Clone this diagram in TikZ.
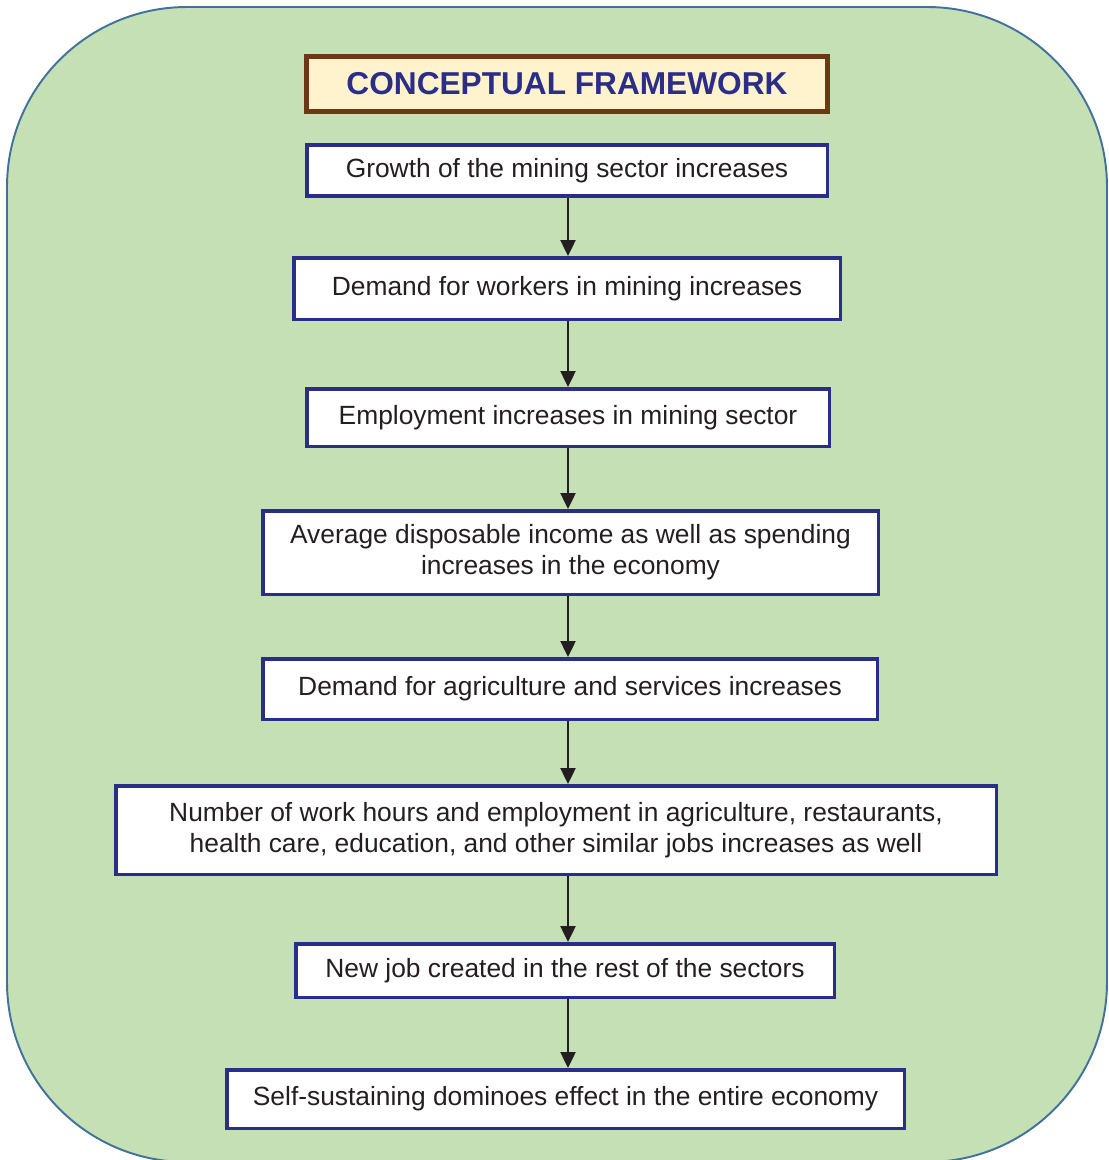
\documentclass[tikz,border=0pt]{standalone}
\usepackage{fontspec}
\setmainfont{Liberation Sans}
\usetikzlibrary{arrows.meta}
\definecolor{panelgreen}{HTML}{C5E0B4}
\definecolor{panelline}{HTML}{41719C}
\definecolor{boxblue}{HTML}{2B2E88}
\definecolor{titlebrown}{HTML}{6B3714}
\definecolor{titlefill}{HTML}{FFF3CD}
\definecolor{inkgray}{HTML}{231F20}
\begin{document}
\begin{tikzpicture}[
  stepbox/.style={draw=boxblue, line width=2pt, fill=white, text=inkgray,
    align=center, inner sep=0pt,
    font=\fontsize{15}{17.6}\selectfont},
  titlebox/.style={draw=titlebrown, line width=3pt, fill=titlefill,
    text=boxblue, inner sep=0pt, font=\fontsize{18}{21}\selectfont\bfseries},
  flow/.style={draw=inkgray, line width=1.4pt,
    -{Triangle[length=0.32cm,width=0.3cm]}}
]
\useasboundingbox (0,0) rectangle (22.18,-23.2);
\draw[fill=panelgreen, draw=panelline, line width=1.1pt, rounded corners=3.6cm]
  (0.14,-0.14) rectangle (22.14,-23.24);

\node[titlebox, minimum width=10.42cm, minimum height=1.1cm] (title) at (11.34,-1.68) {CONCEPTUAL FRAMEWORK};

\node[stepbox, minimum width=10.41cm, minimum height=1.03cm] (b1) at (11.34,-3.41) {Growth of the mining sector increases};
\node[stepbox, minimum width=10.93cm, minimum height=1.23cm] (b2) at (11.34,-5.77) {Demand for workers in mining increases};
\node[stepbox, minimum width=10.45cm, minimum height=1.15cm] (b3) at (11.36,-8.35) {Employment increases in mining sector};
\node[stepbox, minimum width=12.31cm, minimum height=1.67cm] (b4) at (11.41,-11.05) {Average disposable income as well as spending\\increases in the economy};
\node[stepbox, minimum width=12.29cm, minimum height=1.21cm] (b5) at (11.40,-13.78) {Demand for agriculture and services increases};
\node[stepbox, minimum width=17.61cm, minimum height=1.77cm] (b6) at (11.12,-16.60) {Number of work hours and employment in agriculture, restaurants,\\health care, education, and other similar jobs increases as well};
\node[stepbox, minimum width=10.77cm, minimum height=1.07cm] (b7) at (11.30,-19.41) {New job created in the rest of the sectors};
\node[stepbox, minimum width=13.55cm, minimum height=1.17cm] (b8) at (11.31,-21.98) {Self-sustaining dominoes effect in the entire economy};

\coordinate (axis) at (11.36,0);
\draw[flow] (b1.south -| axis) -- (b2.north -| axis);
\draw[flow] (b2.south -| axis) -- (b3.north -| axis);
\draw[flow] (b3.south -| axis) -- (b4.north -| axis);
\draw[flow] (b4.south -| axis) -- (b5.north -| axis);
\draw[flow] (b5.south -| axis) -- (b6.north -| axis);
\draw[flow] (b6.south -| axis) -- (b7.north -| axis);
\draw[flow] (b7.south -| axis) -- (b8.north -| axis);
\end{tikzpicture}
\end{document}
